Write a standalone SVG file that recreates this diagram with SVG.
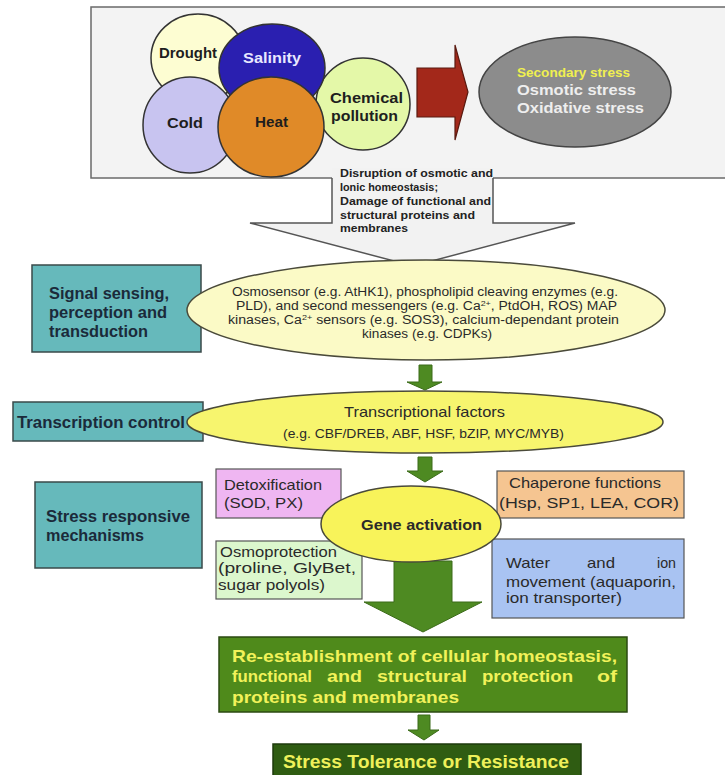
<svg xmlns="http://www.w3.org/2000/svg" width="725" height="775" viewBox="0 0 725 775">
<style>
text{font-family:"Liberation Sans",Arial,sans-serif}
.b{font-weight:bold}
.circ{stroke:#333;stroke-width:1.5}
.teal{fill:#66b9bb;stroke:#3a4a4a;stroke-width:1.5}
.tl{fill:#1b2a3a;font-weight:bold;font-size:16px}
.sm{fill:#2a2a2a;font-size:12.5px}
.box{stroke:#555;stroke-width:1.2}
.bx{fill:#2a2a2a;font-size:14.5px}
.ga{fill:#4e8a22;stroke:#3b6b18;stroke-width:1}
.yt{fill:#f2f25a;font-weight:bold;font-size:17px}
</style>
<rect width="725" height="775" fill="#ffffff"/>

<g id="stressors">
<rect x="91" y="7" width="640" height="171" fill="#f3f3f3" stroke="#6a6a6a" stroke-width="1.5"/>
</g>
<g id="drought"><ellipse class="circ" cx="198" cy="58" rx="47" ry="44" fill="#fdfdd2"/></g>
<g id="chemical"><ellipse class="circ" cx="363" cy="104" rx="47" ry="46" fill="#e4f8a8"/>
<text class="b" x="330" y="103" font-size="15" fill="#1e1e1e" textLength="73" lengthAdjust="spacingAndGlyphs">Chemical</text>
<text class="b" x="331" y="121" font-size="15" fill="#1e1e1e" textLength="67" lengthAdjust="spacingAndGlyphs">pollution</text></g>
<g id="salinity"><ellipse class="circ" cx="272" cy="68" rx="53" ry="44" fill="#2a1fb0"/>
<text class="b" x="243" y="63" font-size="15" fill="#e8e8ff" textLength="58" lengthAdjust="spacingAndGlyphs">Salinity</text></g>
<g id="drought-label"><text class="b" x="159" y="58" font-size="15" fill="#1e1e1e" textLength="58" lengthAdjust="spacingAndGlyphs">Drought</text></g>
<g id="cold"><ellipse class="circ" cx="190" cy="125" rx="47" ry="48" fill="#c8c4f0"/>
<text class="b" x="167" y="128" font-size="15" fill="#1e1e1e" textLength="36" lengthAdjust="spacingAndGlyphs">Cold</text></g>
<g id="heat"><ellipse class="circ" cx="271" cy="127" rx="53" ry="50" fill="#e08a28"/>
<text class="b" x="255" y="127" font-size="15" fill="#1e1e1e" textLength="33" lengthAdjust="spacingAndGlyphs">Heat</text></g>

<g id="secondary">
<ellipse cx="575" cy="92" rx="96" ry="55" fill="#8c8c8c" stroke="#444" stroke-width="1.5"/>
<text class="b" x="517" y="77" font-size="13" fill="#f0f050" textLength="113" lengthAdjust="spacingAndGlyphs">Secondary stress</text>
<text class="b" x="517" y="94.5" font-size="15" fill="#eeeeee" textLength="119" lengthAdjust="spacingAndGlyphs">Osmotic stress</text>
<text class="b" x="517" y="112.5" font-size="15" fill="#eeeeee" textLength="127" lengthAdjust="spacingAndGlyphs">Oxidative stress</text>
</g>

<g id="connectors">
<polygon points="417,68 455,68 455,45 468,92 455,140 455,117 417,117" fill="#a3281a" stroke="#5a1a10" stroke-width="1.2"/>
<polygon points="332,168 332,223 250,223 413,266 575,223 493,223 493,168" fill="#f2f2f2"/>
<polyline points="332,178 332,223 250,223 413,266 575,223 493,223 493,178" fill="none" stroke="#555" stroke-width="1.5"/>
<polygon class="ga" points="419,365 432,365 432,382 442,382 425,390 407,382 419,382"/>
<polygon class="ga" points="418,457 432,457 432,471 443,471 425,482 407,471 418,471"/>
<polygon class="ga" points="394,561 452,561 452,602 482,602 423,632 364,602 394,602"/>
<polygon class="ga" points="418,715 430,715 430,730 439,730 424,740 408,730 418,730"/>
</g>

<g id="disruption" class="b" font-size="11.5" fill="#222">
<text x="340" y="177" textLength="153" lengthAdjust="spacingAndGlyphs">Disruption of osmotic and</text>
<text x="340" y="191" textLength="98" lengthAdjust="spacingAndGlyphs">Ionic homeostasis;</text>
<text x="340" y="205" textLength="151" lengthAdjust="spacingAndGlyphs">Damage of functional and</text>
<text x="340" y="218.5" textLength="135" lengthAdjust="spacingAndGlyphs">structural proteins and</text>
<text x="340" y="232" textLength="68" lengthAdjust="spacingAndGlyphs">membranes</text>
</g>

<g id="signal-label">
<rect class="teal" x="32" y="265" width="169" height="87"/>
<text class="tl" x="49" y="299" textLength="120" lengthAdjust="spacingAndGlyphs">Signal sensing,</text>
<text class="tl" x="49" y="318" textLength="118" lengthAdjust="spacingAndGlyphs">perception and</text>
<text class="tl" x="49" y="337" textLength="99" lengthAdjust="spacingAndGlyphs">transduction</text>
</g>
<g id="signal">
<ellipse cx="426" cy="310" rx="239" ry="50" fill="#fbfac6" stroke="#4a4a3a" stroke-width="1.5"/>
<text class="sm" x="232" y="295.5" textLength="386" lengthAdjust="spacingAndGlyphs">Osmosensor (e.g. AtHK1), phospholipid cleaving enzymes (e.g.</text>
<text class="sm" x="236" y="309.5" textLength="381" lengthAdjust="spacingAndGlyphs">PLD),  and second messengers (e.g. Ca<tspan font-size="8" dy="-4">2+</tspan><tspan dy="4">, PtdOH, ROS) MAP</tspan></text>
<text class="sm" x="228" y="323.5" textLength="391" lengthAdjust="spacingAndGlyphs">kinases, Ca<tspan font-size="8" dy="-4">2+</tspan><tspan dy="4"> sensors (e.g. SOS3), calcium-dependant protein</tspan></text>
<text class="sm" x="362" y="337.5" textLength="130" lengthAdjust="spacingAndGlyphs">kinases (e.g. CDPKs)</text>
</g>

<g id="transcription-label">
<rect class="teal" x="13" y="402" width="190" height="39"/>
<text class="tl" x="17" y="428" textLength="168" lengthAdjust="spacingAndGlyphs">Transcription control</text>
</g>
<g id="transcription">
<ellipse cx="425" cy="422" rx="238" ry="31" fill="#f7f56e" stroke="#4a4a3a" stroke-width="1.5"/>
<text x="344" y="417" font-size="15" fill="#2a2a2a" textLength="161" lengthAdjust="spacingAndGlyphs">Transcriptional factors</text>
<text class="sm" x="283" y="438" textLength="281" lengthAdjust="spacingAndGlyphs">(e.g. CBF/DREB, ABF, HSF, bZIP, MYC/MYB)</text>
</g>

<g id="mechanisms-label">
<rect class="teal" x="35" y="482" width="167" height="86"/>
<text class="tl" x="46" y="522" textLength="144" lengthAdjust="spacingAndGlyphs">Stress responsive</text>
<text class="tl" x="46" y="541" textLength="98" lengthAdjust="spacingAndGlyphs">mechanisms</text>
</g>

<g id="detox">
<rect class="box" x="216" y="469" width="125" height="49" fill="#efb6f2"/>
<text class="bx" x="224" y="490" textLength="98" lengthAdjust="spacingAndGlyphs">Detoxification</text>
<text class="bx" x="224" y="508" textLength="79" lengthAdjust="spacingAndGlyphs">(SOD, PX)</text>
</g>
<g id="chaperone">
<rect class="box" x="497" y="471" width="187" height="47" fill="#f5c591"/>
<text class="bx" x="509" y="488" textLength="152" lengthAdjust="spacingAndGlyphs">Chaperone functions</text>
<text class="bx" x="499" y="508" textLength="180" lengthAdjust="spacingAndGlyphs">(Hsp, SP1, LEA, COR)</text>
</g>
<g id="osmoprotection">
<rect class="box" x="216" y="541" width="146" height="58" fill="#dcf7cd"/>
<text class="bx" x="220" y="557" textLength="117" lengthAdjust="spacingAndGlyphs">Osmoprotection</text>
<text class="bx" x="218" y="573" textLength="138" lengthAdjust="spacingAndGlyphs">(proline, GlyBet,</text>
<text class="bx" x="218" y="590" textLength="107" lengthAdjust="spacingAndGlyphs">sugar polyols)</text>
</g>
<g id="water">
<rect class="box" x="492" y="539" width="192" height="79" fill="#a9c3f2"/>
<text class="bx" x="506" y="568" textLength="44" lengthAdjust="spacingAndGlyphs">Water</text>
<text class="bx" x="587" y="568" textLength="28" lengthAdjust="spacingAndGlyphs">and</text>
<text class="bx" x="657" y="568" textLength="19" lengthAdjust="spacingAndGlyphs">ion</text>
<text class="bx" x="506" y="587" textLength="170" lengthAdjust="spacingAndGlyphs">movement (aquaporin,</text>
<text class="bx" x="506" y="603" textLength="116" lengthAdjust="spacingAndGlyphs">ion transporter)</text>
</g>
<g id="gene">
<ellipse cx="411" cy="524" rx="90" ry="38" fill="#f8f35a" stroke="#4a4a3a" stroke-width="1.5"/>
<text class="b" x="361" y="530" font-size="15" fill="#2a2a2a" textLength="121" lengthAdjust="spacingAndGlyphs">Gene activation</text>
</g>

<g id="reestablishment">
<rect x="219" y="637" width="408" height="75" fill="#4f8a1b" stroke="#2b4a12" stroke-width="1.5"/>
<text class="yt" x="232" y="662" textLength="385" lengthAdjust="spacingAndGlyphs">Re-establishment of cellular homeostasis,</text>
<text class="yt" x="232" y="682" textLength="80" lengthAdjust="spacingAndGlyphs">functional</text>
<text class="yt" x="327" y="682" textLength="35" lengthAdjust="spacingAndGlyphs">and</text>
<text class="yt" x="377" y="682" textLength="90" lengthAdjust="spacingAndGlyphs">structural</text>
<text class="yt" x="482" y="682" textLength="91" lengthAdjust="spacingAndGlyphs">protection</text>
<text class="yt" x="597" y="682" textLength="20" lengthAdjust="spacingAndGlyphs">of</text>
<text class="yt" x="232" y="703" textLength="227" lengthAdjust="spacingAndGlyphs">proteins and membranes</text>
</g>
<g id="tolerance">
<rect x="273" y="744" width="308" height="40" fill="#2f5c12" stroke="#1e3a0c" stroke-width="1.5"/>
<text class="b" x="283" y="768" font-size="18" fill="#eef05a" textLength="286" lengthAdjust="spacingAndGlyphs">Stress Tolerance or Resistance</text>
</g>
</svg>
